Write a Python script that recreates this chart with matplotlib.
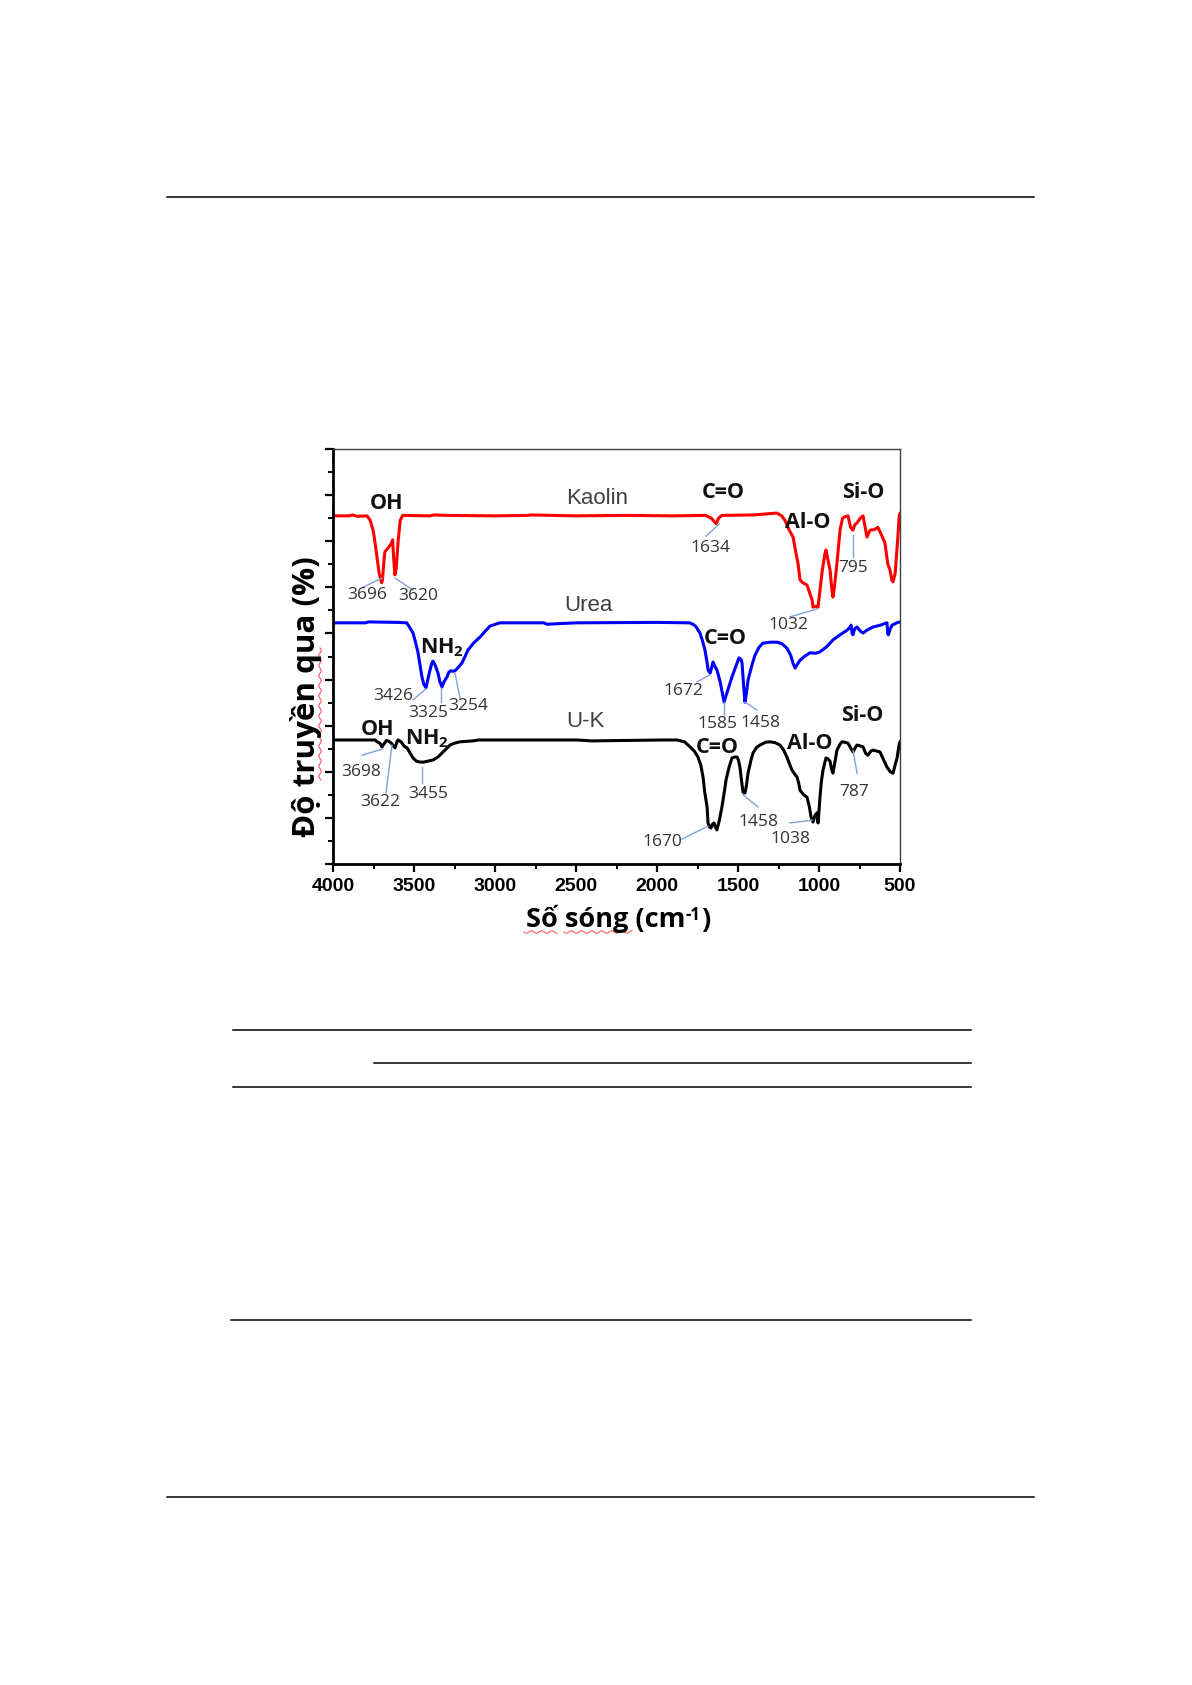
import numpy as np
import matplotlib
matplotlib.use("Agg")
import matplotlib.pyplot as plt
from matplotlib.lines import Line2D

W, H = 1192, 1685

# ---- spectra (wavenumber cm-1, offset transmittance, arbitrary units) ----
kaolin_wn = [4000, 3900, 3880, 3850, 3790, 3770, 3750, 3730, 3715, 3700, 3695, 3685, 3680,
             3660, 3640, 3632, 3625, 3618, 3610, 3598, 3585, 3570, 3400, 3380, 3300, 3000,
             2800, 2780, 2500, 2200, 1900, 1700, 1665, 1640, 1634, 1620, 1600, 1400, 1300,
             1260, 1230, 1210, 1185, 1160, 1140, 1130, 1117, 1100, 1074, 1055, 1043, 1037,
             1020, 1006, 995, 982, 965, 957, 945, 932, 922, 914, 905, 889, 870, 855, 840,
             821, 805, 790, 780, 765, 745, 728, 715, 704, 685, 660, 636, 610, 593, 575, 562,
             550, 543, 530, 515, 505, 500]
kaolin_t = [75.5, 75.5, 75.7, 75.4, 75.5, 74.5, 72.0, 67.0, 63.0, 61.0, 61.5, 66.0, 67.7,
            68.5, 69.5, 70.3, 66.0, 62.7, 64.0, 70.0, 74.5, 75.6, 75.5, 75.7, 75.6, 75.5,
            75.6, 75.7, 75.5, 75.6, 75.5, 75.6, 75.0, 74.0, 73.8, 75.0, 75.6, 75.7, 76.0,
            76.1, 75.5, 74.5, 72.5, 70.9, 67.0, 65.3, 61.6, 61.0, 60.5, 58.5, 57.3, 55.7,
            55.9, 55.7, 59.0, 63.1, 67.0, 68.1, 66.0, 63.8, 60.0, 57.9, 60.0, 65.3, 72.4, 75.0, 75.3,
            75.5, 73.0, 72.4, 73.5, 74.0, 75.0, 75.5, 73.0, 70.9, 72.4, 72.5, 73.0, 71.0, 69.6, 65.0, 63.8,
            61.5, 61.2, 63.0, 70.0, 75.5, 76.0]

urea_wn = [4000, 3800, 3780, 3600, 3545, 3530, 3506, 3490, 3475, 3460, 3451, 3440, 3426,
           3415, 3401, 3390, 3383, 3370, 3352, 3340, 3327, 3315, 3296, 3285, 3272, 3260,
           3247, 3230, 3204, 3185, 3167, 3130, 3093, 3060, 3031, 2970, 2700, 2680, 2500,
           2000, 1800, 1778, 1760, 1735, 1720, 1704, 1690, 1685, 1672, 1660, 1654, 1645,
           1630, 1610, 1586, 1565, 1537, 1515, 1494, 1480, 1475, 1466, 1457, 1448, 1438,
           1415, 1395, 1370, 1346, 1300, 1259, 1230, 1198, 1175, 1160, 1148, 1130, 1117,
           1090, 1056, 1020, 994, 950, 914, 870, 827, 810, 802, 796, 790, 780, 765, 745,
           728, 700, 667, 620, 590, 580, 576, 572, 560, 549, 520, 500]
urea_t = [52.3, 52.3, 52.5, 52.4, 52.3, 51.5, 50.1, 48.0, 45.8, 42.5, 40.6, 39.0, 38.2,
          40.0, 42.1, 43.5, 44.0, 43.2, 41.4, 39.5, 38.4, 39.5, 40.6, 41.6, 41.9, 41.8,
          41.9, 42.5, 43.6, 45.0, 46.4, 48.0, 49.2, 50.5, 51.6, 52.3, 52.3, 52.0, 52.3,
          52.4, 52.3, 52.0, 51.5, 50.1, 48.5, 46.4, 43.5, 42.1, 41.4, 43.0, 43.8, 43.0,
          42.1, 39.5, 35.1, 37.5, 40.6, 42.7, 44.7, 44.3, 43.6, 39.0, 35.1, 37.0, 39.9,
          43.0, 45.3, 47.0, 47.9, 48.1, 48.1, 47.8, 46.8, 45.3, 43.5, 42.5, 43.5, 44.2,
          45.0, 45.8, 45.7, 46.0, 47.2, 48.6, 49.7, 50.7, 51.3, 51.8, 50.0, 49.7, 51.0, 51.4, 50.5,
          50.1, 50.8, 51.4, 51.8, 52.2, 52.3, 50.0, 49.7, 51.0, 51.8, 52.3, 52.5]

uk_wn = [4000, 3800, 3740, 3728, 3710, 3698, 3690, 3670, 3655, 3640, 3625, 3617, 3605,
         3599, 3580, 3560, 3543, 3520, 3506, 3485, 3463, 3440, 3414, 3380, 3352, 3321,
         3300, 3278, 3250, 3216, 3136, 3100, 2500, 2400, 1950, 1876, 1830, 1796, 1770,
         1747, 1730, 1716, 1705, 1691, 1685, 1676, 1667, 1660, 1648, 1640, 1630, 1615,
         1599, 1585, 1574, 1555, 1537, 1520, 1506, 1497, 1488, 1478, 1469, 1457, 1448,
         1438, 1420, 1407, 1385, 1364, 1330, 1302, 1270, 1241, 1220, 1198, 1180, 1167,
         1150, 1136, 1125, 1117, 1095, 1074, 1060, 1049, 1037, 1025, 1012, 1006, 1000,
         994, 985, 975, 957, 945, 932, 922, 914, 900, 889, 870, 858, 840, 821, 805, 790,
         775, 765, 745, 728, 712, 698, 680, 667, 645, 624, 600, 580, 560, 543, 530, 518,
         505, 500]
uk_t = [26.9, 26.9, 26.9, 26.5, 26.2, 25.4, 25.8, 26.8, 26.6, 26.2, 25.5, 25.2, 26.5,
        26.9, 26.5, 25.5, 25.2, 23.8, 23.0, 22.3, 22.1, 22.1, 22.3, 22.6, 23.2, 24.3,
        25.0, 25.8, 26.2, 26.5, 26.7, 26.9, 26.9, 26.7, 26.9, 26.9, 26.5, 25.4, 24.5,
        23.2, 21.5, 18.9, 15.5, 12.4, 8.9, 8.0, 7.8, 8.5, 8.9, 8.0, 7.4, 9.5,
        12.4, 15.5, 18.2, 21.0, 23.0, 23.2, 23.2, 22.5, 21.0, 18.0, 15.6, 15.4, 17.0,
        19.7, 22.5, 24.1, 25.3, 25.8, 26.4, 26.5, 26.3, 25.8, 24.8, 23.2, 21.5, 20.4,
        19.5, 18.9, 17.5, 16.0, 15.0, 14.5, 12.5, 10.2, 9.1, 10.5, 11.1, 8.9, 11.5,
        14.5, 18.0, 20.4, 23.0, 22.8, 22.3, 20.5, 19.7, 22.5, 24.7, 26.0, 26.5, 26.4, 26.2, 25.2, 24.3,
        25.3, 25.8, 25.6, 25.4, 24.0, 23.6, 24.5, 24.7, 24.5, 24.3, 22.5, 21.0, 20.0, 19.7, 21.5, 23.0,
        26.0, 26.5]

x_ticks = [4000, 3500, 3000, 2500, 2000, 1500, 1000, 500]

# series names: (text, wn, y)
names = [("Kaolin", 2370, 79.3), ("Urea", 2426, 56.0), ("U-K", 2444, 31.0)]

# bold group labels: (text, wn, y)
groups = [("OH", 3667, 78.1), ("C=O", 1593, 80.5), ("Al-O", 1068, 74.0), ("Si-O", 728, 80.5),
          ("NH$_2$", 3327, 47.0), ("C=O", 1580, 49.0),
          ("OH", 3728, 29.1), ("NH$_2$", 3420, 27.2), ("C=O", 1630, 25.2),
          ("Al-O", 1056, 26.2), ("Si-O", 735, 32.3)]

# peak labels: (text, text wn, text y, leader start (wn, y), leader end (wn, y))
peaks = [("3696", 3790, 58.3, (3821, 59.9), (3698, 62.0)),
         ("3620", 3475, 58.1, (3617, 62.0), (3506, 59.4)),
         ("1634", 1673, 68.5, (1697, 71.1), (1617, 73.7)),
         ("795", 790, 64.2, (790, 71.3), (790, 66.6)),
         ("1032", 1191, 51.8, (1179, 53.6), (1012, 55.3)),
         ("3426", 3630, 36.4, (3506, 35.6), (3426, 38.0)),
         ("3325", 3414, 32.7, (3333, 38.2), (3333, 35.1)),
         ("3254", 3167, 34.3, (3247, 41.4), (3216, 36.0)),
         ("1672", 1839, 37.5, (1753, 39.5), (1673, 41.0)),
         ("1585", 1630, 30.4, (1586, 35.1), (1586, 32.3)),
         ("1458", 1364, 30.6, (1457, 35.1), (1383, 33.4)),
         ("3698", 3827, 20.0, (3821, 23.6), (3698, 24.9)),
         ("3622", 3710, 13.4, (3673, 15.4), (3636, 25.8)),
         ("3455", 3414, 15.2, (3451, 21.0), (3451, 17.6)),
         ("1670", 1969, 4.8, (1846, 5.4), (1685, 8.2)),
         ("1458", 1377, 9.1, (1469, 15.0), (1377, 12.4)),
         ("1038", 1179, 5.4, (1179, 8.9), (1043, 9.5)),
         ("787", 784, 15.6, (790, 24.7), (765, 19.7))]

plt.rcParams["mathtext.fontset"] = "custom"
plt.rcParams["mathtext.rm"] = "Open Sans:bold"
plt.rcParams["mathtext.default"] = "rm"

fig = plt.figure(figsize=(W / 100, H / 100), dpi=100)
fig.patch.set_facecolor("white")

# page rules (top / table / bottom)
rules = [(167, 1034, 197), (233, 971, 1030), (374, 971, 1063), (233, 971, 1087),
         (231, 971, 1320), (167, 1034, 1497)]
for x0, x1, y in rules:
    fig.add_artist(Line2D([x0 / W, x1 / W], [1 - y / H, 1 - y / H], transform=fig.transFigure,
                          color="black", lw=1.1))

ax = fig.add_axes([333 / W, 1 - 864 / H, 567 / W, 415 / H])
ax.plot(kaolin_wn, kaolin_t, color="#ff0000", lw=2.2, solid_joinstyle="round")
ax.plot(urea_wn, urea_t, color="#0000ff", lw=2.2, solid_joinstyle="round")
ax.plot(uk_wn, uk_t, color="black", lw=2.2, solid_joinstyle="round")

ax.set_xlim(4000, 500)
ax.set_ylim(0, 90)
ax.set_xticks(x_ticks)
ax.set_xticks(np.arange(3750, 500, -500), minor=True)
ax.set_yticks(np.arange(0, 91, 10))
ax.set_yticks(np.arange(5, 90, 10), minor=True)
ax.set_yticklabels([])
ax.tick_params(axis="both", which="major", direction="out", length=6, width=1.6, color="black")
ax.tick_params(axis="both", which="minor", direction="out", length=3.5, width=1.4, color="black")
ax.tick_params(axis="x", pad=4)
for lab in ax.get_xticklabels():
    lab.set_fontfamily("Liberation Sans")
    lab.set_fontweight("bold")
    lab.set_fontsize(14)

for side in ["left", "bottom"]:
    ax.spines[side].set_linewidth(2.0)
    ax.spines[side].set_color("black")
for side in ["top", "right"]:
    ax.spines[side].set_linewidth(1.0)
    ax.spines[side].set_color("#404040")

for txt, x, y in names:
    ax.text(x, y, txt, ha="center", va="center", fontsize=16, color="#404040",
            family="Liberation Sans")

for txt, x, y in groups:
    ax.text(x, y, txt, ha="center", va="center", fontsize=15.5, fontweight="bold",
            color="#111111", family="Open Sans")

for txt, x, y, p0, p1 in peaks:
    ax.plot([p0[0], p1[0]], [p0[1], p1[1]], color="#7ea3d8", lw=1.0)
    ax.text(x, y, txt, ha="center", va="center", fontsize=12.5, color="#333333",
            family="Open Sans")

# x title built from pieces so the superscript is a short hyphen
xl = fig.text(0.5, 1 - 927 / H, "Số sóng (cm", ha="left", va="baseline",
              fontsize=19.5, fontweight="bold", family="Open Sans")
sup = ax.annotate("-1", xy=(1, 1), xycoords=xl, xytext=(0.5, -1), textcoords="offset points",
                  ha="left", va="top", fontsize=12, fontweight="bold", family="Open Sans")
close = ax.annotate(")", xy=(1, 0), xycoords=(sup, xl), xytext=(0.5, 0),
                    textcoords="offset points", ha="left", va="bottom", fontsize=19.5,
                    fontweight="bold", family="Open Sans")

# centre the assembled title under the axes
fig.canvas.draw()
r = fig.canvas.get_renderer()
x_left = xl.get_window_extent(r).x0
x_right = close.get_window_extent(r).x1
shift = 618 - (x_left + x_right) / 2
xl.set_x(0.5 + shift / W)

fig.text(306 / W, 1 - 697 / H, "Độ truyền qua (%)", ha="center", va="center", rotation=90,
         fontsize=22.5, fontweight="bold", family="Open Sans")

# spell-check squiggles under the Vietnamese words
def squiggle(x0, x1, y, vertical=False):
    n = int(abs(x1 - x0) / 1.5) + 2
    s = np.linspace(x0, x1, n)
    w = y + 1.3 * np.sin((s - x0) / 1.6)
    if vertical:
        xs, ys = w, s
    else:
        xs, ys = s, w
    fig.add_artist(Line2D(np.array(xs) / W, 1 - np.array(ys) / H, transform=fig.transFigure,
                          color="#ff5a5a", lw=0.8))

squiggle(524, 557, 932)
squiggle(564, 632, 932)
squiggle(648, 780, 320, vertical=True)

fig.savefig("out.png", dpi=100, facecolor="white")
